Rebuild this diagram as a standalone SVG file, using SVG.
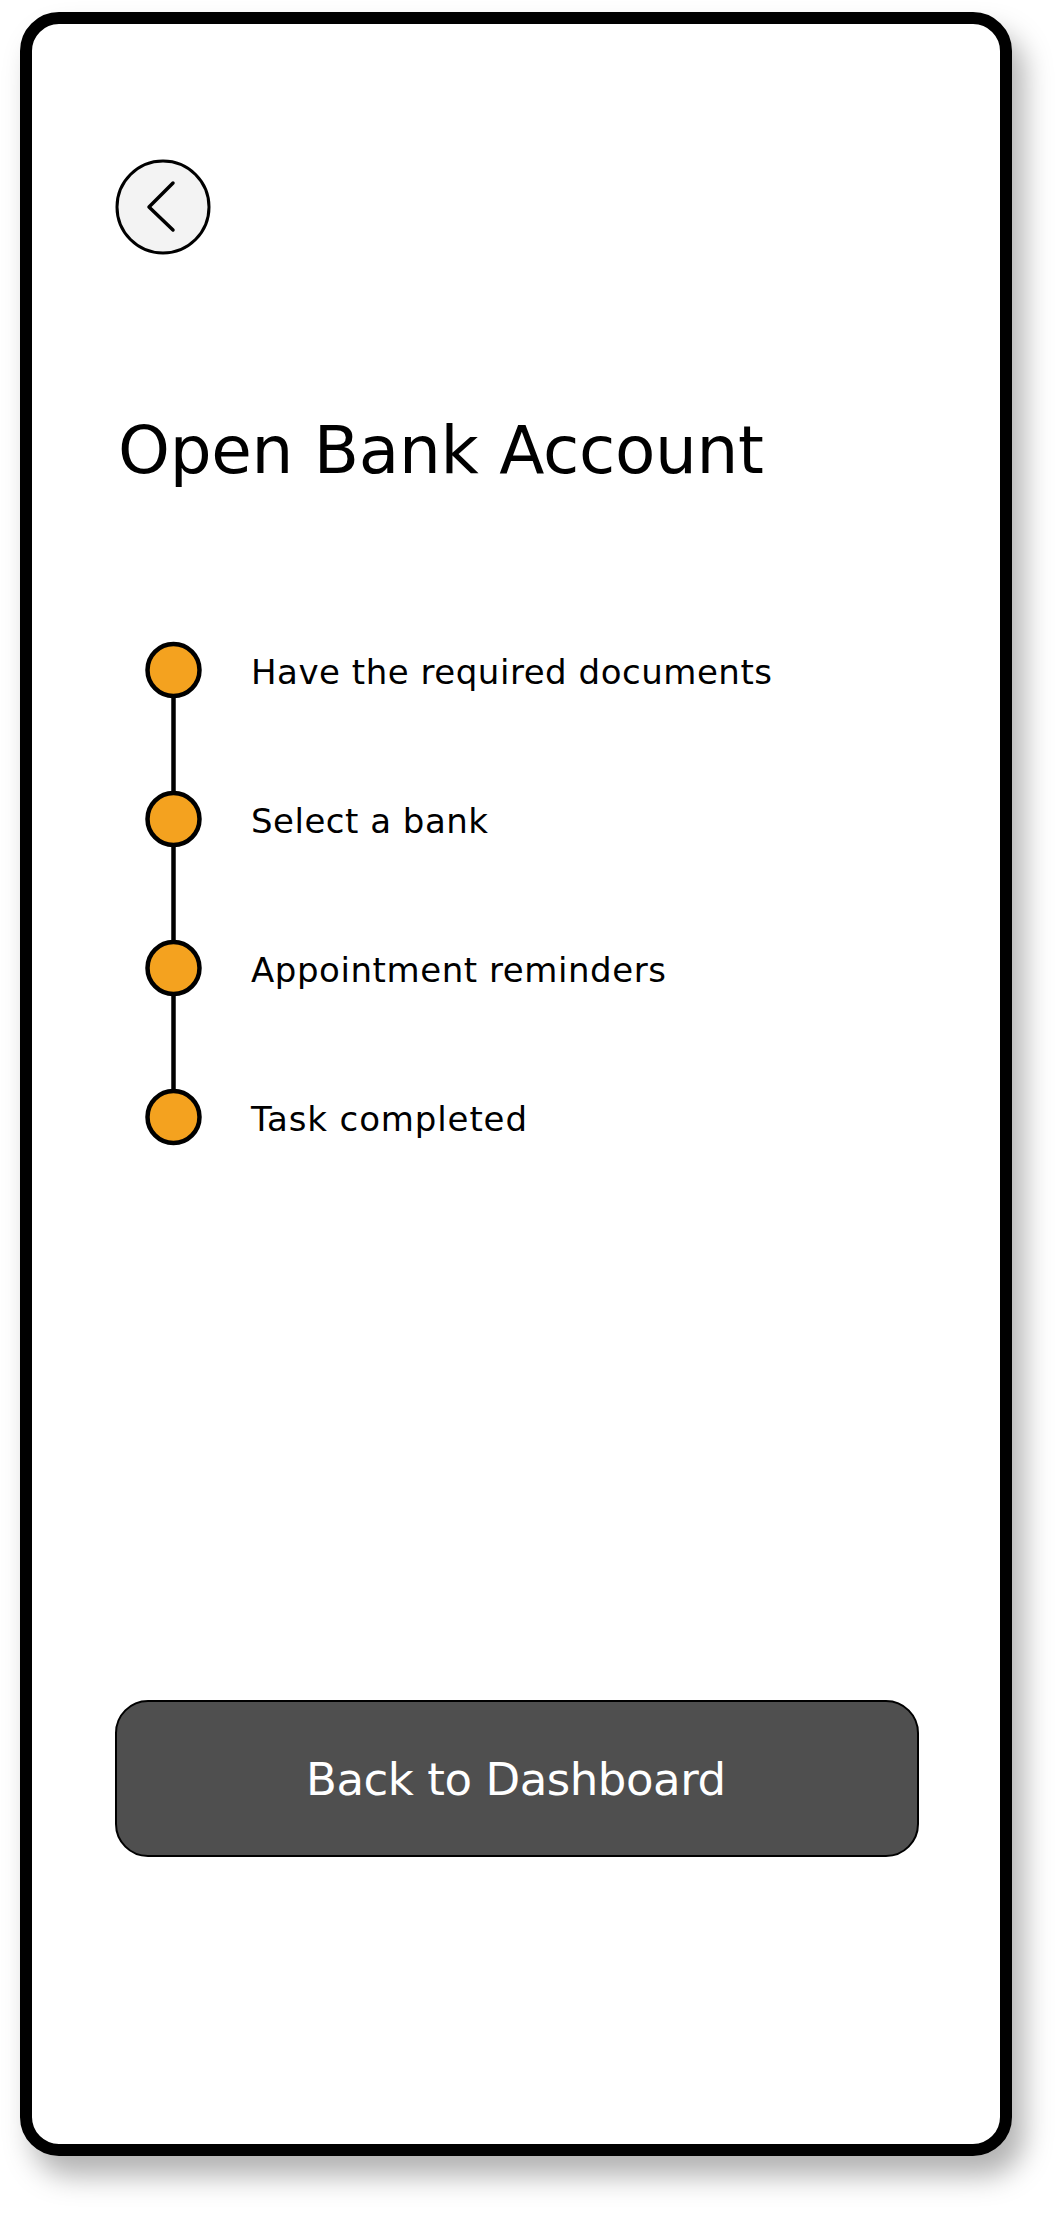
<svg xmlns="http://www.w3.org/2000/svg" width="1064" height="2216" viewBox="0 0 1064 2216">
  <defs>
    <filter id="shadow" x="-10%" y="-10%" width="125%" height="125%">
      <feDropShadow dx="12" dy="20" stdDeviation="14" flood-color="#000" flood-opacity="0.3"/>
    </filter>
    <style>
      .txt { font-family: "DejaVu Sans", "Liberation Sans", sans-serif; fill: #000; }
      .label { font-size: 34px; }
      .step { fill: #F4A21F; stroke: #000; stroke-width: 4.5; }
      .conn { stroke: #000; stroke-width: 4.5; fill: none; }
    </style>
  </defs>
  <rect x="0" y="0" width="1064" height="2216" fill="#ffffff"/>
  <g id="frame">
    <rect x="26" y="18" width="980" height="2132" rx="33" ry="33" fill="#ffffff" stroke="#000" stroke-width="12" filter="url(#shadow)"/>
  </g>
  <g id="back-button">
    <circle cx="163" cy="207" r="46" fill="#f3f3f3" stroke="#000" stroke-width="3"/>
    <polyline points="173,183 149,207 173,230" fill="none" stroke="#000" stroke-width="3.5" stroke-linecap="round" stroke-linejoin="round"/>
  </g>
  <g id="title">
    <text class="txt" x="118" y="473" font-size="66" textLength="646">Open Bank Account</text>
  </g>
  <g id="connectors">
    <line class="conn" x1="173.5" y1="696" x2="173.5" y2="793"/>
    <line class="conn" x1="173.5" y1="845" x2="173.5" y2="942"/>
    <line class="conn" x1="173.5" y1="994" x2="173.5" y2="1091"/>
  </g>
  <g id="step-1">
    <circle class="step" cx="173.5" cy="670" r="26"/>
    <text class="txt label" x="251" y="684" textLength="521">Have the required documents</text>
  </g>
  <g id="step-2">
    <circle class="step" cx="173.5" cy="819" r="26"/>
    <text class="txt label" x="251" y="833" textLength="237">Select a bank</text>
  </g>
  <g id="step-3">
    <circle class="step" cx="173.5" cy="968" r="26"/>
    <text class="txt label" x="251" y="982" textLength="415">Appointment reminders</text>
  </g>
  <g id="step-4">
    <circle class="step" cx="173.5" cy="1117" r="26"/>
    <text class="txt label" x="251" y="1131" textLength="276">Task completed</text>
  </g>
  <g id="dashboard-button">
    <rect x="116" y="1701" width="802" height="155" rx="32" ry="32" fill="#4f4f4f" stroke="#000" stroke-width="2"/>
    <text class="txt" x="516" y="1795" font-size="45" text-anchor="middle" textLength="420" style="fill:#ffffff">Back to Dashboard</text>
  </g>
</svg>
